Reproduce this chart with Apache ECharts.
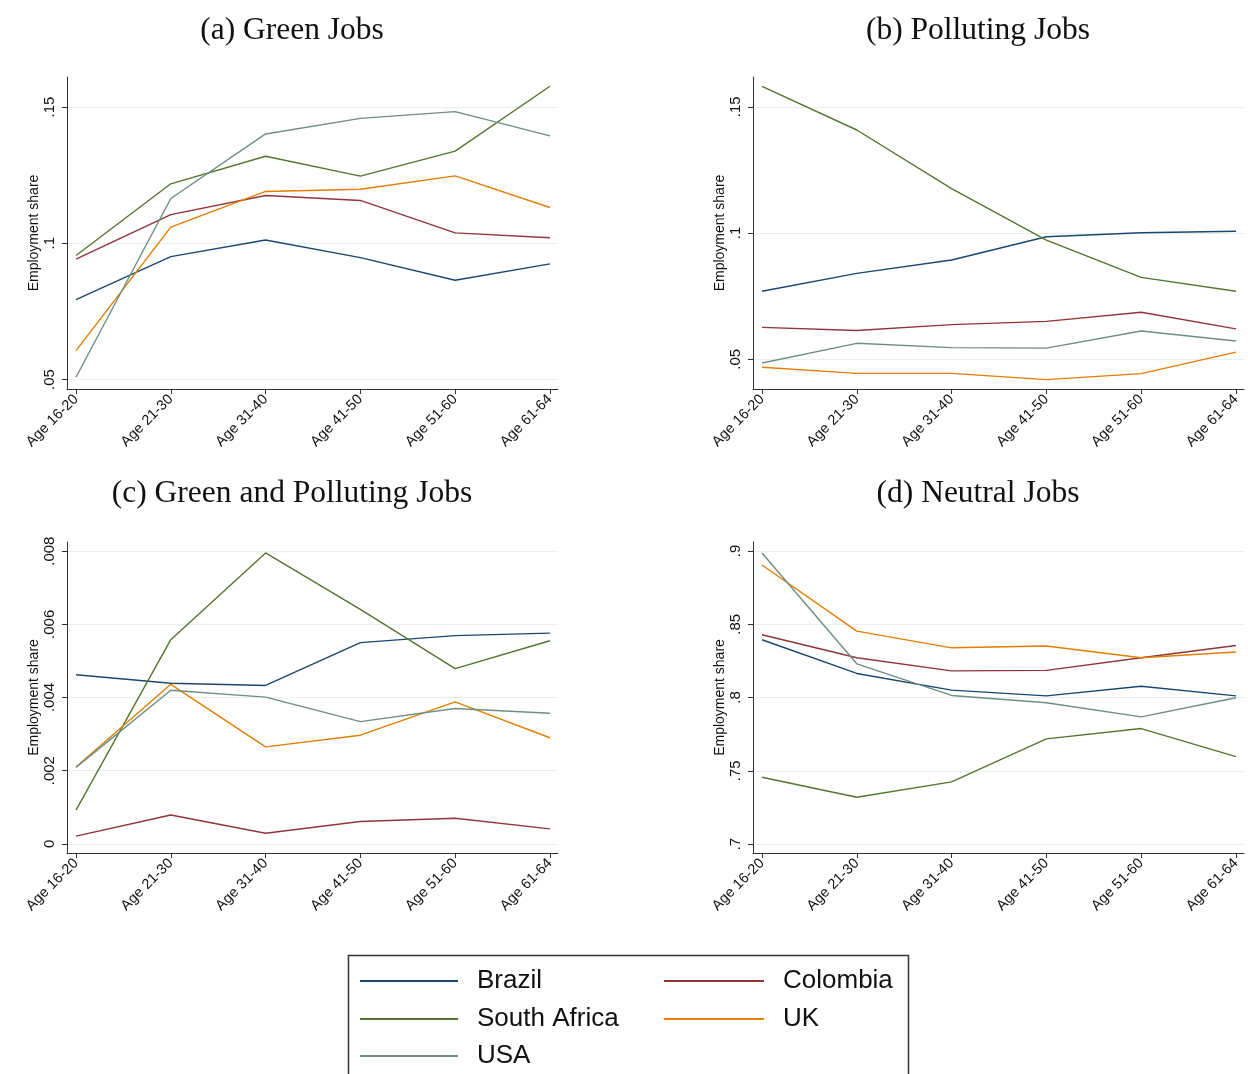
<!DOCTYPE html>
<html>
<head>
<meta charset="utf-8">
<script src="https://cdn.jsdelivr.net/npm/echarts@6/dist/echarts.min.js"></script>
<style>
  html, body { margin: 0; padding: 0; background: #fff; }
  #chart { width: 1248px; height: 1074px; }
</style>
</head>
<body>
<div id="chart"></div>
<script>
// Age groups on the horizontal axis
const ageGroups = ['Age 16-20', 'Age 21-30', 'Age 31-40', 'Age 41-50', 'Age 51-60', 'Age 61-64'];
const countries = ['Brazil', 'Colombia', 'South Africa', 'UK', 'USA'];

// (a) Green jobs: employment share by age group
const greenBrazil      = [0.0793, 0.0951, 0.1012, 0.0947, 0.0864, 0.0924];
const greenColombia    = [0.0942, 0.1105, 0.1175, 0.1157, 0.1038, 0.1020];
const greenSouthAfrica = [0.0955, 0.1218, 0.1319, 0.1246, 0.1338, 0.1576];
const greenUK          = [0.0606, 0.1059, 0.1190, 0.1198, 0.1247, 0.1131];
const greenUSA         = [0.0508, 0.1164, 0.1401, 0.1458, 0.1483, 0.1394];

// (b) Polluting jobs
const pollBrazil      = [0.0769, 0.0840, 0.0893, 0.0985, 0.1001, 0.1007];
const pollColombia    = [0.0626, 0.0614, 0.0637, 0.0650, 0.0686, 0.0620];
const pollSouthAfrica = [0.1581, 0.1408, 0.1176, 0.0972, 0.0824, 0.0769];
const pollUK          = [0.0468, 0.0444, 0.0444, 0.0419, 0.0443, 0.0528];
const pollUSA         = [0.0485, 0.0563, 0.0546, 0.0544, 0.0612, 0.0572];

// (c) Green and polluting jobs
const bothBrazil      = [0.00462, 0.00439, 0.00433, 0.00550, 0.00569, 0.00576];
const bothColombia    = [0.00021, 0.00079, 0.00029, 0.00061, 0.00070, 0.00041];
const bothSouthAfrica = [0.00092, 0.00558, 0.00795, 0.00641, 0.00479, 0.00555];
const bothUK          = [0.00210, 0.00436, 0.00265, 0.00297, 0.00388, 0.00290];
const bothUSA         = [0.00209, 0.00420, 0.00401, 0.00334, 0.00370, 0.00357];

// (d) Neutral jobs
const neutBrazil      = [0.8394, 0.8164, 0.8050, 0.8011, 0.8077, 0.8011];
const neutColombia    = [0.8428, 0.8271, 0.8182, 0.8185, 0.8271, 0.8355];
const neutSouthAfrica = [0.7456, 0.7319, 0.7424, 0.7718, 0.7788, 0.7597];
const neutUK          = [0.8904, 0.8453, 0.8339, 0.8351, 0.8271, 0.8310];
const neutUSA         = [0.8986, 0.8230, 0.8014, 0.7964, 0.7868, 0.7998];

// Y-axis tick values and their labels for each panel
const ticksShare   = [0.05, 0.1, 0.15];
const labelsShare  = ['.05', '.1', '.15'];
const ticksBoth    = [0, 0.002, 0.004, 0.006, 0.008];
const labelsBoth   = ['0', '.002', '.004', '.006', '.008'];
const ticksNeutral = [0.7, 0.75, 0.8, 0.85, 0.9];
const labelsNeutral = ['.7', '.75', '.8', '.85', '.9'];

const panelTitles = ['(a) Green Jobs', '(b) Polluting Jobs', '(c) Green and Polluting Jobs', '(d) Neutral Jobs'];

const colors = {
  'Brazil': '#1a476f',
  'Colombia': '#90353b',
  'South Africa': '#55752f',
  'UK': '#e37e00',
  'USA': '#6e8e84'
};

const panels = [
  { data: [greenBrazil, greenColombia, greenSouthAfrica, greenUK, greenUSA],
    min: 0.0465, max: 0.161, ticks: ticksShare, labels: labelsShare,
    grid: { left: 67, top: 77, width: 491, height: 312 }, titleX: 287, titleY: 10 },
  { data: [pollBrazil, pollColombia, pollSouthAfrica, pollUK, pollUSA],
    min: 0.0382, max: 0.1618, ticks: ticksShare, labels: labelsShare,
    grid: { left: 753, top: 77, width: 491, height: 312 }, titleX: 973, titleY: 10 },
  { data: [bothBrazil, bothColombia, bothSouthAfrica, bothUK, bothUSA],
    min: -0.00025, max: 0.00825, ticks: ticksBoth, labels: labelsBoth,
    grid: { left: 67, top: 542, width: 491, height: 311 }, titleX: 287, titleY: 473 },
  { data: [neutBrazil, neutColombia, neutSouthAfrica, neutUK, neutUSA],
    min: 0.6939, max: 0.9061, ticks: ticksNeutral, labels: labelsNeutral,
    grid: { left: 753, top: 542, width: 491, height: 311 }, titleX: 973, titleY: 473 }
];

// Legend layout: two columns, three rows
const legendSlots = [
  { name: 'Brazil',       left: 355, top: 961, width: 98 },
  { name: 'Colombia',     left: 659, top: 961, width: 100 },
  { name: 'South Africa', left: 355, top: 999, width: 98 },
  { name: 'UK',           left: 659, top: 999, width: 100 },
  { name: 'USA',          left: 355, top: 1036, width: 98 }
];

const sansFont = '"Liberation Sans", Arial, sans-serif';
const serifFont = '"Liberation Serif", "DejaVu Serif", serif';
const axisColor = '#333333';
const gridColor = '#e8eff1';

const xPositions = ageGroups.map((_, i) => i + 1);

const option = {
  backgroundColor: '#ffffff',
  animation: false,
  title: panels.map((p, i) => ({
    text: panelTitles[i],
    left: p.titleX,
    top: p.titleY,
    textAlign: 'center',
    textStyle: { fontFamily: serifFont, fontSize: 31.5, fontWeight: 'normal', color: '#111' }
  })),
  grid: panels.map(p => Object.assign({ containLabel: false }, p.grid)),
  xAxis: panels.map((p, i) => ({
    type: 'value',
    gridIndex: i,
    min: 0.905,
    max: 6.085,
    axisLine: { show: true, onZero: false, lineStyle: { color: axisColor, width: 1 } },
    axisTick: { show: true, customValues: xPositions, length: 5, lineStyle: { color: axisColor } },
    axisLabel: {
      customValues: xPositions,
      formatter: v => ageGroups[Math.round(v) - 1],
      rotate: 45,
      margin: 8,
      fontFamily: sansFont,
      fontSize: 14.5,
      color: '#111'
    },
    splitLine: { show: false }
  })),
  yAxis: panels.map((p, i) => ({
    type: 'value',
    gridIndex: i,
    min: p.min,
    max: p.max,
    name: 'Employment share',
    nameLocation: 'middle',
    nameGap: 24,
    nameTextStyle: { fontFamily: sansFont, fontSize: 14, color: '#111' },
    axisLine: { show: true, lineStyle: { color: axisColor, width: 1 } },
    axisTick: { show: true, customValues: p.ticks, length: 5, lineStyle: { color: axisColor } },
    axisLabel: {
      customValues: p.ticks,
      formatter: v => p.labels[p.ticks.findIndex(t => Math.abs(t - v) < 1e-9)],
      rotate: 90,
      margin: 10,
      fontFamily: sansFont,
      fontSize: 15,
      color: '#111'
    },
    splitLine: { show: true, lineStyle: { color: gridColor, width: 1.2 } }
  })),
  legend: legendSlots.map(s => ({
    data: [s.name],
    orient: 'horizontal',
    left: s.left,
    top: s.top,
    icon: 'rect',
    itemWidth: s.width,
    itemHeight: 2,
    selectedMode: false,
    textStyle: { fontFamily: sansFont, fontSize: 26, color: '#111', lineHeight: 30, padding: [0, 0, 0, 14] }
  })),
  graphic: [
    {
      type: 'rect',
      shape: { x: 348.5, y: 955.5, width: 560, height: 130 },
      style: { fill: 'none', stroke: '#333', lineWidth: 1.5 },
      silent: true
    }
  ],
  series: []
};

panels.forEach((p, pi) => {
  countries.forEach((c, ci) => {
    option.series.push({
      type: 'line',
      name: c,
      xAxisIndex: pi,
      yAxisIndex: pi,
      data: p.data[ci].map((v, k) => [xPositions[k], v]),
      showSymbol: false,
      symbol: 'none',
      color: colors[c],
      lineStyle: { color: colors[c], width: 1.4 },
      emphasis: { disabled: true }
    });
  });
});

const chart = echarts.init(document.getElementById('chart'), null, { renderer: 'canvas' });
chart.setOption(option);
</script>
</body>
</html>
